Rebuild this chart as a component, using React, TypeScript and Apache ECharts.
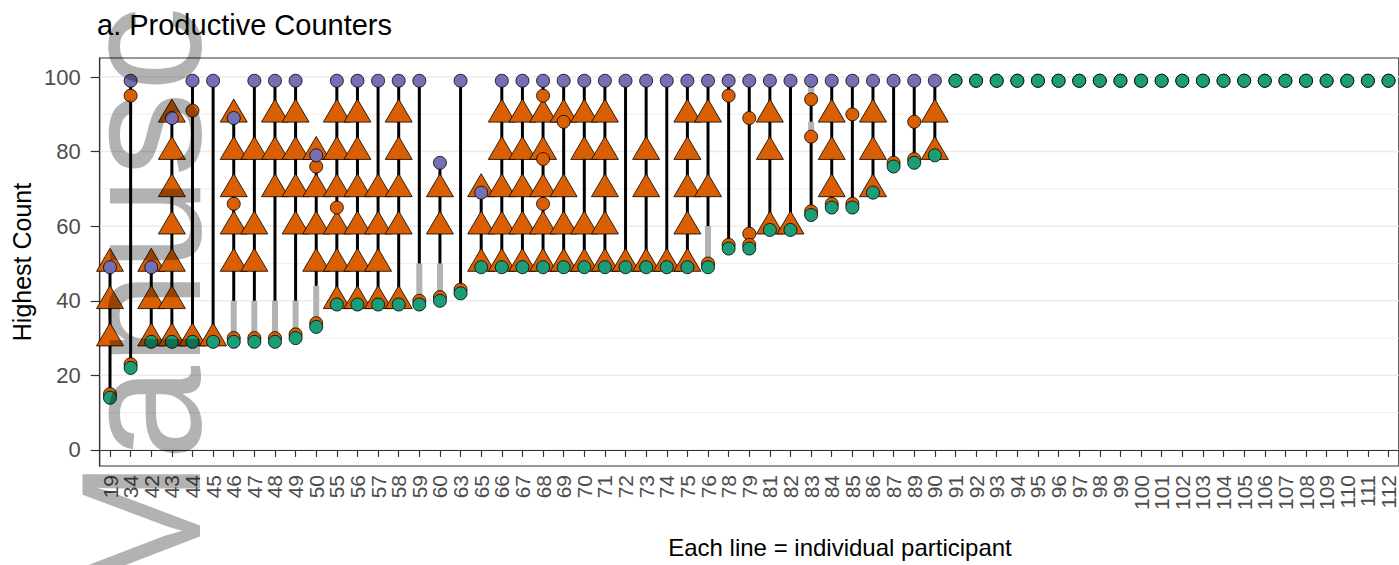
import { useEffect, useRef } from 'react';
import * as echarts from 'echarts';

const FONT = '"Liberation Sans", Arial, Helvetica, sans-serif';

// Participant IDs (x categories)
const participants = ['19','34','42','43','44','45','46','47','48','49','50','55','56','57','58','59','60','63','65','66','67','68','69','70','71','72','73','74','75','76','78','79','81','82','83','84','85','86','87','89','90','91','92','93','94','95','96','97','98','99','100','101','102','103','104','105','106','107','108','109','110','111','112'];

// Starting count (green)
const startCounts = [14,22,29,29,29,29,29,29,29,30,33, 39,39,39,39,39,40, 42,49, 49,49,49,49,49,49,49,49,49,49,49, 54,54, 59,59,63,65,65,69,76,77,79, 99,99,99,99,99,99,99,99,99,99,99,99,99,99,99,99,99,99,99,99,99,99];

// Highest count (purple)
const highestCounts = [49,99,49,89,99,99,89,99,99,99,79, 99,99,99,99,99,77, 99,69, 99,99,99,99,99,99,99,99,99,99,99, 99,99, 99,99,99,99,99,99,99,99,99, 99,99,99,99,99,99,99,99,99,99,99,99,99,99,99,99,99,99,99,99,99,99];

// Productive decade transitions (orange triangles)
const triangles: [string, number[]][] = [
  ['19', [30, 40, 50]],
  ['42', [30, 40, 50]],
  ['43', [30, 40, 50, 60, 70, 80, 90]],
  ['44', [30]],
  ['45', [30]],
  ['46', [50, 60, 70, 80, 90]],
  ['47', [50, 60, 80]],
  ['48', [70, 80, 90]],
  ['49', [60, 70, 80, 90]],
  ['50', [50, 60, 70, 80]],
  ['55', [40, 50, 60, 70, 80, 90]],
  ['56', [40, 50, 60, 70, 80, 90]],
  ['57', [40, 50, 60, 70]],
  ['58', [40, 60, 70, 80, 90]],
  ['60', [60, 70]],
  ['65', [50, 60, 70]],
  ['66', [50, 60, 70, 80, 90]],
  ['67', [50, 60, 70, 80, 90]],
  ['68', [50, 60, 70, 80, 90]],
  ['69', [50, 60, 70, 90]],
  ['70', [50, 60, 80, 90]],
  ['71', [50, 60, 70, 80, 90]],
  ['72', [50]],
  ['73', [50, 70, 80]],
  ['74', [50]],
  ['75', [50, 60, 70, 80, 90]],
  ['76', [70, 90]],
  ['81', [60, 80, 90]],
  ['82', [60]],
  ['84', [70, 80, 90]],
  ['86', [70, 80, 90]],
  ['90', [80, 90]],
];

// Other counted points (orange circles)
const orangePoints: [string, number[]][] = [
  ['19', [15]],
  ['34', [95, 23]],
  ['44', [91]],
  ['46', [66, 30]],
  ['47', [30]],
  ['48', [30]],
  ['49', [31]],
  ['50', [76, 34]],
  ['55', [65]],
  ['59', [40]],
  ['60', [41]],
  ['63', [43]],
  ['68', [95, 78, 66]],
  ['69', [88]],
  ['76', [50]],
  ['78', [95, 55]],
  ['79', [89, 58, 55]],
  ['83', [94, 84, 64]],
  ['84', [66]],
  ['85', [90, 66]],
  ['87', [77]],
  ['89', [88, 78]],
];

// Black line segments [participant, from, to]
const blackSegments: [string, number, number][] = [
  ['19', 14, 49], ['34', 22, 99], ['42', 29, 49], ['43', 29, 89], ['44', 29, 99], ['45', 29, 99],
  ['46', 40, 89], ['47', 40, 99], ['48', 40, 99], ['49', 40, 99], ['50', 44, 79],
  ['55', 39, 99], ['56', 39, 99], ['57', 39, 99], ['58', 39, 99], ['59', 50, 99], ['60', 50, 77],
  ['63', 42, 99], ['65', 49, 69], ['66', 49, 99], ['67', 49, 99], ['68', 49, 99], ['69', 49, 99],
  ['70', 49, 99], ['71', 49, 99], ['72', 49, 99], ['73', 49, 99], ['74', 49, 99], ['75', 49, 99],
  ['76', 60, 99], ['78', 54, 99], ['79', 54, 99], ['81', 59, 99], ['82', 59, 99],
  ['83', 63, 84], ['83', 88, 94], ['84', 65, 99], ['85', 65, 99], ['86', 69, 99], ['87', 76, 99],
  ['89', 77, 99], ['90', 79, 99],
];

// Grey line segments [participant, from, to]
const greySegments: [string, number, number][] = [
  ['46', 30, 40], ['47', 30, 40], ['48', 30, 40], ['49', 31, 40], ['50', 34, 44],
  ['59', 40, 50], ['60', 41, 50], ['76', 50, 60], ['83', 94, 99], ['83', 84, 88],
];

const yTicks = [0, 20, 40, 60, 80, 100];
const yMinorGrid = [10, 30, 50, 70, 90];

const ORANGE = '#d95f02';
const PURPLE = '#7570b3';
const GREEN = '#1b9e77';

function segSeries(data: [string, number, number][], color: string, width: number, z: number) {
  return {
    type: 'custom',
    z,
    silent: true,
    data: data.map(d => [d[0], d[1], d[2]]),
    encode: { x: 0, y: [1, 2] },
    renderItem: (_p: any, api: any) => {
      const x = api.value(0);
      const a = api.coord([x, api.value(1)]);
      const b = api.coord([x, api.value(2)]);
      return {
        type: 'line',
        shape: { x1: a[0], y1: a[1], x2: b[0], y2: b[1] },
        style: { stroke: color, lineWidth: width, lineCap: 'butt' },
      };
    },
  };
}

function gridSeries(values: number[], width: number, z: number) {
  return {
    type: 'custom',
    z,
    silent: true,
    data: values.map(v => [participants[0], v]),
    encode: { x: 0, y: 1 },
    renderItem: (params: any, api: any) => {
      const y = api.coord([0, api.value(1)])[1];
      const cs = params.coordSys;
      return {
        type: 'line',
        shape: { x1: cs.x, y1: y, x2: cs.x + cs.width, y2: y },
        style: { stroke: '#ebebeb', lineWidth: width },
      };
    },
  };
}

export default function App() {
  const ref = useRef<HTMLDivElement>(null);
  useEffect(() => {
    document.body.style.margin = '0';
    if (!ref.current) return;
    const chart = echarts.init(ref.current, undefined, { renderer: 'svg' });

    const triData: [string, number][] = [];
    triangles.forEach(([p, vals]) => vals.forEach(v => triData.push([p, v])));
    const orangeData: [string, number][] = [];
    orangePoints.forEach(([p, vals]) => vals.forEach(v => orangeData.push([p, v])));
    const greenData = participants.map((p, i) => [p, startCounts[i]]);
    const purpleData = participants.map((p, i) => [p, highestCounts[i]]);

    const marker = (z: number, data: any[], color: string, extra: any = {}) => ({
      type: 'scatter',
      silent: true,
      z,
      data,
      symbol: 'circle',
      symbolSize: 13,
      itemStyle: { color, opacity: 1, borderColor: '#000', borderWidth: 0.8 },
      ...extra,
    });

    const option: any = {
      animation: false,
      backgroundColor: '#ffffff',
      textStyle: { fontFamily: FONT },
      title: {
        text: 'a. Productive Counters',
        left: 97,
        top: 10,
        padding: 0,
        textStyle: { fontSize: 29, fontWeight: 'normal', color: '#000', fontFamily: FONT },
      },
      grid: {
        left: 99.7, top: 58, width: 1299.7, height: 408,
        show: true, borderColor: '#333333', borderWidth: 1.2, backgroundColor: 'transparent',
      },
      xAxis: {
        type: 'category',
        data: participants,
        boundaryGap: true,
        axisLine: { show: true, lineStyle: { color: '#333333', width: 1.2 } },
        axisTick: { show: true, alignWithLabel: true, length: 7, lineStyle: { color: '#333333', width: 1.2 } },
        axisLabel: { interval: 0, rotate: 90, margin: 9, color: '#4d4d4d', fontSize: 21, lineHeight: 17, fontFamily: FONT },
        splitLine: { show: false },
      },
      yAxis: {
        type: 'value',
        min: -4.3,
        max: 105.1,
        axisLine: { show: true, lineStyle: { color: '#333333', width: 1.2 } },
        axisTick: { show: true, length: 9, customValues: yTicks, lineStyle: { color: '#333333', width: 1.2 } },
        axisLabel: { customValues: yTicks, margin: 19, color: '#4d4d4d', fontSize: 22, fontFamily: FONT },
        splitLine: { show: false },
        minorSplitLine: { show: false },
      },
      graphic: [
        {
          type: 'text', x: 22, y: 262, rotation: Math.PI / 2,
          style: { text: 'Highest Count', fontSize: 25, fill: '#000', textAlign: 'center', textVerticalAlign: 'middle', fontFamily: FONT },
        },
        {
          type: 'text', x: 840, y: 547,
          style: { text: 'Each line = individual participant', fontSize: 24, fill: '#000', textAlign: 'center', textVerticalAlign: 'middle', fontFamily: FONT },
        },
        {
          type: 'text', x: 141, y: 602, rotation: Math.PI / 2, z: 100, silent: true,
          style: { text: 'Manuscript', fontSize: 170, fill: 'rgba(0,0,0,0.3)', textAlign: 'left', textVerticalAlign: 'middle', fontFamily: FONT },
        },
      ],
      series: [
        gridSeries(yMinorGrid, 0.8, 0),
        gridSeries(yTicks, 1.5, 0),
        segSeries(greySegments, '#b3b3b3', 6, 1),
        segSeries(blackSegments, '#000000', 3, 2),
        marker(3, triData, ORANGE, { symbol: 'triangle', symbolSize: [27, 23], symbolOffset: [0, -3.7] }),
        marker(4, orangeData, ORANGE),
        marker(5, purpleData, PURPLE),
        marker(6, greenData, GREEN),
      ],
    };
    chart.setOption(option);
    return () => chart.dispose();
  }, []);
  return <div ref={ref} style={{ position: 'absolute', left: 0, top: 0, width: 1399, height: 565 }} />;
}
